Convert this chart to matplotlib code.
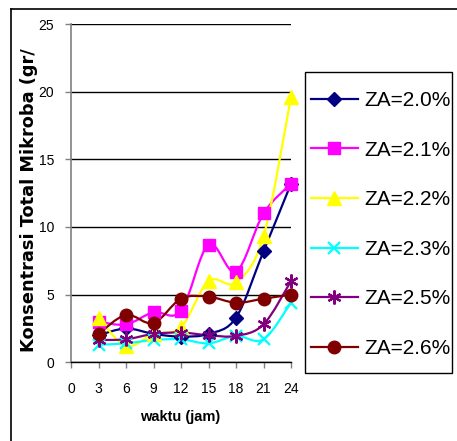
import numpy as np
import matplotlib
matplotlib.use("Agg")
import matplotlib.pyplot as plt
from matplotlib.path import Path
from matplotlib.patches import PathPatch, Rectangle
from matplotlib.lines import Line2D

plt.rcParams['font.family'] = ['Liberation Sans', 'DejaVu Sans']

# ---- data ----
waktu = [3, 6, 9, 12, 15, 18, 21, 24]
za20 = [2.0, 2.5, 2.1, 1.9, 2.1, 3.3, 8.2, 13.2]
za21 = [3.0, 2.8, 3.7, 3.8, 8.7, 6.7, 11.0, 13.2]
za22 = [3.3, 1.2, 2.1, 2.6, 6.0, 5.9, 9.3, 19.6]
za23 = [1.3, 1.4, 1.65, 1.7, 1.4, 1.95, 1.7, 4.4]
za25 = [1.65, 1.7, 2.1, 2.2, 2.0, 1.95, 2.8, 6.0]
za26 = [2.1, 3.5, 2.9, 4.7, 4.85, 4.4, 4.7, 5.0]
labels = ["ZA=2.0%", "ZA=2.1%", "ZA=2.2%", "ZA=2.3%", "ZA=2.5%", "ZA=2.6%"]
xticks = [0, 3, 6, 9, 12, 15, 18, 21, 24]
yticks = [0, 5, 10, 15, 20, 25]

series = [za20, za21, za22, za23, za25, za26]
colors = ["#000080", "#FF00FF", "#FFFF00", "#00FFFF", "#800080", "#800000"]
markers = ["D", "s", "^", "x", (6, 2, 0), "o"]
msizes = [7, 8, 10, 8, 10, 9]

fig = plt.figure(figsize=(4.57, 4.41), dpi=100)
ax = fig.add_axes([71/457, 1-362.3/441, 220/457, 338.3/441])
ax.set_xlim(0, 24)
ax.set_ylim(0, 25)


def smooth_path(x, y):
    pts = np.column_stack([x, y]).astype(float)
    n = len(pts)
    verts = [pts[0]]
    codes = [Path.MOVETO]
    for i in range(n - 1):
        p0 = pts[i - 1] if i > 0 else pts[i]
        p1 = pts[i]
        p2 = pts[i + 1]
        p3 = pts[i + 2] if i + 2 < n else pts[i + 1]
        c1 = p1 + (p2 - p0) / 6.0
        c2 = p2 - (p3 - p1) / 6.0
        verts += [c1, c2, p2]
        codes += [Path.CURVE4] * 3
    return Path(verts, codes)


handles = []
for ys, c, m, ms, lab in zip(series, colors, markers, msizes, labels):
    patch = PathPatch(smooth_path(waktu, ys), facecolor='none', edgecolor=c,
                      lw=1.6, transform=ax.transData, zorder=2)
    ax.add_patch(patch)
    mew = 1.6 if m in ("x",) or isinstance(m, tuple) else 1
    ax.plot(waktu, ys, linestyle='none', marker=m, color=c, markersize=ms,
            markeredgecolor=c, markeredgewidth=mew, zorder=3, clip_on=False)
    handles.append(Line2D([], [], color=c, lw=1.6, marker=m, markersize=ms,
                          markeredgecolor=c, markeredgewidth=mew, label=lab))

ax.set_xticks(xticks)
ax.set_yticks(yticks)
ax.yaxis.grid(True, color='black', lw=1)
ax.set_axisbelow(True)
for s in ['top', 'right']:
    ax.spines[s].set_visible(False)
ax.spines['left'].set_color('#808080')
ax.spines['left'].set_linewidth(1.2)
ax.spines['bottom'].set_color('black')
ax.spines['bottom'].set_linewidth(1)
ax.tick_params(axis='y', direction='out', length=4, width=1, color='#808080',
               labelsize=10, pad=8)
ax.tick_params(axis='x', direction='out', length=4, width=1, color='#808080',
               labelsize=10, pad=10)

fig.text(180/457, 1-417/441, "waktu (jam)", fontsize=10.5, fontweight='bold',
         ha='center', va='center')
fig.text(29/457, 1-352/441, "Konsentrasi Total Mikroba (gr/",
         fontsize=12.8, fontweight='bold', rotation=90,
         family=['DejaVu Sans'], ha='center', va='bottom')

# legend frame and entries
fig.add_artist(Rectangle((305/457, 1-373/441), 147/457, 301/441,
                         transform=fig.transFigure, facecolor='white',
                         edgecolor='black', lw=1, zorder=4))
leg = fig.legend(handles=handles, loc='upper left',
                 bbox_to_anchor=(311/457, 1-91/441), fontsize=15,
                 frameon=False, handlelength=2.25, handletextpad=0.3,
                 labelspacing=1.47, borderpad=0, borderaxespad=0)
leg.set_zorder(5)

# outer chart frame
fig.add_artist(Line2D([11/457, 1], [1-9/441, 1-9/441], color='black', lw=1.2,
                      transform=fig.transFigure))
fig.add_artist(Line2D([11/457, 11/457], [0, 1-9/441], color='black', lw=1.2,
                      transform=fig.transFigure))

fig.savefig("out.png", dpi=100)
